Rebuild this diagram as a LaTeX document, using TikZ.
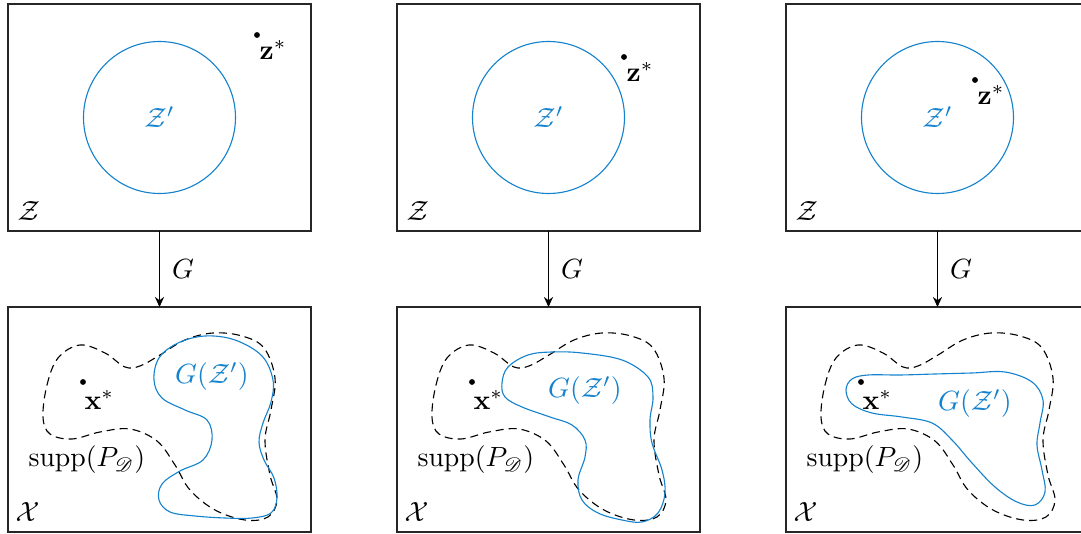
\documentclass[tikz,border=0pt]{standalone}
\usepackage{mathrsfs}
\usetikzlibrary{arrows.meta}
\definecolor{gblue}{RGB}{20,130,205}
\begin{document}
\begin{tikzpicture}[x=0.36pt,y=-0.36pt,
  box/.style={draw=black!85, line width=0.45pt, minimum width=109.08pt, inner sep=0pt, outer sep=0pt},
  ptdot/.style={circle, fill, inner sep=0pt, minimum size=2.1pt},
  supp/.style={draw, dash pattern=on 2.9pt off 1.8pt, line width=0.4pt},
  gz/.style={draw=gblue, line width=0.4pt},
  map/.style={-{Stealth[length=3.6pt,width=3.3pt]}, line width=0.4pt},
  lab/.style={inner sep=0pt}]
\useasboundingbox (0,0) rectangle (1081,534);
\foreach \i/\zx/\zy in {0/257/35, 1/235/57, 2/197/80} {
\begin{scope}[shift={(389*\i,0)}]
  \node[box, minimum height=81.72pt] (top\i) at (159.5,117.5) {};
  \node[circle, draw=gblue, line width=0.4pt, minimum size=54.72pt, inner sep=0pt, text=gblue] (zp\i) at (159.5,117.5) {$\mathcal{Z}'$};
  \node[lab, anchor=base west] (zl\i) at (17,221) {$\mathcal{Z}$};
  \node[ptdot] (zs\i) at (\zx,\zy) {};
  \node[lab, anchor=base west] (zsl\i) at (\zx+2,\zy+25) {$\mathbf{z}^*$};
  \node[box, minimum height=81pt] (bot\i) at (159.5,419.5) {};
  \draw[map] (top\i) -- (bot\i) node[midway, right=1pt] (g\i) {$G$};
  \node[lab, anchor=base west] (xl\i) at (15,522) {$\mathcal{X}$};
  \node[lab, anchor=base west] (sl\i) at (28,467) {$\mathrm{supp}(P_{\mathscr{D}})$};
  \node[ptdot] (xs\i) at (83,382) {};
  \node[lab, anchor=base west] (xsl\i) at (84,410) {$\mathbf{x}^*$};
  \draw[supp] plot[smooth cycle, tension=0.6] coordinates {
    (43,417) (47,385) (58,358) (80,345) (105,353) (125,367) (140,366) (160,355)
    (185,340) (213,333) (242,336) (264,348) (275,378) (271,410) (265,440)
    (270,475) (277,500) (268,517) (245,520) (215,510) (190,490) (175,465)
    (157,441) (130,429) (100,432) (72,439) (50,434)};
\end{scope}
}
\draw[gz] plot[smooth cycle, tension=0.6] coordinates {
  (154,380) (159,358) (178,343) (205,336) (235,340) (262,356) (273,380) (271,402)
  (263,423) (259,442) (264,460) (274,478) (277,498) (271,513) (252,518) (225,518)
  (195,516) (170,512) (159,500) (162,484) (180,471) (203,460) (212,440) (207,420)
  (185,410) (162,398)};
\draw[gz] plot[smooth cycle, tension=0.6] coordinates {
  (502,383) (508,367) (528,355) (552,352) (582,353) (622,360) (648,377) (653,397)
  (650,420) (652,443) (662,470) (665,493) (658,513) (642,522) (622,520) (598,513)
  (582,500) (578,480) (585,457) (585,440) (572,425) (550,417) (522,407) (505,397)};
\draw[gz] plot[smooth cycle, tension=0.6] coordinates {
  (846,390) (852,379) (868,375) (900,375) (935,374) (972,373) (1005,372) (1032,382)
  (1043,400) (1040,423) (1037,445) (1042,470) (1045,492) (1035,505) (1017,502)
  (995,487) (972,463) (952,440) (932,423) (902,417) (872,413) (852,404)};
\node[lab, text=gblue] (gl1) at (212,377) {$G(\mathcal{Z}')$};
\node[lab, text=gblue] (gl2) at (585,391) {$G(\mathcal{Z}')$};
\node[lab, text=gblue] (gl3) at (975,404) {$G(\mathcal{Z}')$};
\end{tikzpicture}
\end{document}
